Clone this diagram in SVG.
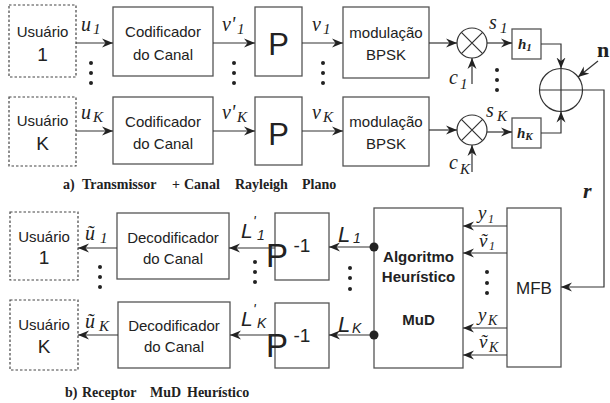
<svg xmlns="http://www.w3.org/2000/svg" width="610" height="403" viewBox="0 0 610 403">
<style>
.box{fill:#fff;stroke:#555;stroke-width:1.3}
.dash{fill:#fff;stroke:#444;stroke-width:1.2;stroke-dasharray:2.5,2}
.ln{fill:none;stroke:#333;stroke-width:1.2}
.s{font-family:"Liberation Sans",Arial,sans-serif;fill:#222;text-anchor:middle}
.t15{font-size:15px}
.t19{font-size:19px}
.it{font-family:"Liberation Serif","DejaVu Serif",serif;font-style:italic;fill:#222}
.si{font-family:"Liberation Sans",Arial,sans-serif;font-style:italic;fill:#222}
.cap{font-family:"Liberation Serif","Times New Roman",serif;font-weight:bold;font-size:14px;fill:#222}
.dot{fill:#222}
</style>
<defs>
<marker id="ah" markerWidth="12" markerHeight="10" refX="11" refY="5" orient="auto" markerUnits="userSpaceOnUse">
<path d="M0,0.5 L11,5 L0,9.5 L3.5,5 z" fill="#222"/>
</marker>
</defs>

<!-- Transmitter nodes -->
<g id="usuario1-tx"><rect class="dash" x="9" y="5" width="67" height="72"/><text class="s t15" x="42.5" y="37">Usuário</text><text class="s t19" x="42.5" y="61">1</text></g>
<g id="usuarioK-tx"><rect class="dash" x="9" y="97" width="67" height="69"/><text class="s t15" x="42.5" y="126">Usuário</text><text class="s t19" x="42.5" y="150">K</text></g>
<g id="codificador1"><rect class="box" x="113" y="7" width="100" height="69"/><text class="s t15" x="163" y="37">Codificador</text><text class="s t15" x="163" y="60">do Canal</text></g>
<g id="codificadorK"><rect class="box" x="113" y="97" width="100" height="67"/><text class="s t15" x="163" y="127">Codificador</text><text class="s t15" x="163" y="149">do Canal</text></g>
<g id="p1"><rect class="box" x="255" y="7" width="47" height="69"/><text class="s" font-size="31" x="278.5" y="55">P</text></g>
<g id="pK"><rect class="box" x="255" y="97" width="47" height="68"/><text class="s" font-size="31" x="278.5" y="145">P</text></g>
<g id="modulacao1"><rect class="box" x="343" y="7" width="86" height="71"/><text class="s t15" x="386" y="38">modulação</text><text class="s t15" x="386" y="60">BPSK</text></g>
<g id="modulacaoK"><rect class="box" x="343" y="97" width="86" height="69"/><text class="s t15" x="386" y="127">modulação</text><text class="s t15" x="386" y="149">BPSK</text></g>
<g id="mult1"><circle class="ln" cx="472" cy="43" r="15"/><path class="ln" d="M461.4,32.4 L482.6,53.6 M482.6,32.4 L461.4,53.6"/></g>
<g id="multK"><circle class="ln" cx="472" cy="130" r="15"/><path class="ln" d="M461.4,119.4 L482.6,140.6 M482.6,119.4 L461.4,140.6"/></g>
<g id="h1"><rect class="box" x="512" y="29" width="29" height="30"/><text x="518" y="49" font-family="Liberation Serif,serif" font-style="italic" font-weight="bold" font-size="15" fill="#222">h<tspan font-size="11" dy="2">1</tspan></text></g>
<g id="hK"><rect class="box" x="512" y="118" width="29" height="30"/><text x="517" y="138" font-family="Liberation Serif,serif" font-style="italic" font-weight="bold" font-size="15" fill="#222">h<tspan font-size="11" dy="2">K</tspan></text></g>
<g id="soma"><circle class="ln" cx="561" cy="90" r="21.5"/><path class="ln" d="M561,69 V111.5 M539.5,90 H582.5"/></g>

<!-- Receiver nodes -->
<g id="usuario1-rx"><rect class="dash" x="10" y="212" width="68" height="68"/><text class="s t15" x="44" y="242">Usuário</text><text class="s t19" x="44" y="264">1</text></g>
<g id="usuarioK-rx"><rect class="dash" x="10" y="300" width="68" height="70"/><text class="s t15" x="44" y="330">Usuário</text><text class="s t19" x="44" y="353">K</text></g>
<g id="decodificador1"><rect class="box" x="117" y="213" width="112" height="66"/><text class="s t15" x="173" y="243">Decodificador</text><text class="s t15" x="173" y="264">do Canal</text></g>
<g id="decodificadorK"><rect class="box" x="118" y="302" width="112" height="66"/><text class="s t15" x="174" y="331">Decodificador</text><text class="s t15" x="174" y="352">do Canal</text></g>
<g id="pinv1"><rect class="box" x="275" y="213" width="54" height="67"/><text class="s" font-size="33" x="277" y="267" text-anchor="start">P</text><text class="s" font-size="19" x="302" y="252" text-anchor="start">-1</text></g>
<g id="pinvK"><rect class="box" x="275" y="303" width="54" height="65"/><text class="s" font-size="33" x="277" y="357" text-anchor="start">P</text><text class="s" font-size="19" x="302" y="342" text-anchor="start">-1</text></g>
<g id="mud"><rect class="box" x="374" y="208" width="89" height="160"/><text class="s" font-weight="bold" font-size="15" x="418.5" y="262">Algoritmo</text><text class="s" font-weight="bold" font-size="15" x="418.5" y="282">Heurístico</text><text class="s" font-weight="bold" font-size="15" x="418.5" y="325">MuD</text></g>
<g id="mfb"><rect class="box" x="507" y="208" width="54" height="159"/><text class="s" font-size="17" x="534" y="294">MFB</text></g>

<!-- Connectors -->
<g id="connectors">
<path class="ln" marker-end="url(#ah)" d="M76,43 H113"/>
<path class="ln" marker-end="url(#ah)" d="M213,43 H255"/>
<path class="ln" marker-end="url(#ah)" d="M302,43 H343"/>
<path class="ln" marker-end="url(#ah)" d="M429,43 H457"/>
<path class="ln" marker-end="url(#ah)" d="M472,84 V58"/>
<path class="ln" marker-end="url(#ah)" d="M487,43 H512"/>
<path class="ln" marker-end="url(#ah)" d="M541,44 H561 V68.5"/>
<path class="ln" marker-end="url(#ah)" d="M76,131 H113"/>
<path class="ln" marker-end="url(#ah)" d="M213,131 H255"/>
<path class="ln" marker-end="url(#ah)" d="M302,131 H343"/>
<path class="ln" marker-end="url(#ah)" d="M429,130 H457"/>
<path class="ln" marker-end="url(#ah)" d="M472,172 V145"/>
<path class="ln" marker-end="url(#ah)" d="M487,132 H512"/>
<path class="ln" marker-end="url(#ah)" d="M541,133 H561 V111.5"/>
<path class="ln" marker-end="url(#ah)" d="M598,61 L578,77"/>
<path class="ln" marker-end="url(#ah)" d="M582.5,90 H604 V287 H561"/>
<path class="ln" marker-end="url(#ah)" d="M507,226 H463"/>
<path class="ln" marker-end="url(#ah)" d="M507,253 H463"/>
<path class="ln" marker-end="url(#ah)" d="M507,328 H463"/>
<path class="ln" marker-end="url(#ah)" d="M507,355 H463"/>
<path class="ln" marker-end="url(#ah)" d="M374,247 H329"/>
<path class="ln" marker-end="url(#ah)" d="M374,335 H329"/>
<circle class="dot" cx="374" cy="247" r="4.5"/>
<circle class="dot" cx="374" cy="335" r="4.5"/>
<path class="ln" marker-end="url(#ah)" d="M275,248 H229"/>
<path class="ln" marker-end="url(#ah)" d="M275,335 H230"/>
<path class="ln" marker-end="url(#ah)" d="M117,248 H78"/>
<path class="ln" marker-end="url(#ah)" d="M118,335 H78"/>
</g>

<!-- Dots -->
<g id="ellipsis" class="dot">
<circle cx="91" cy="63" r="2"/><circle cx="91" cy="73" r="2"/><circle cx="91" cy="83" r="2"/>
<circle cx="234" cy="63" r="2"/><circle cx="234" cy="73" r="2"/><circle cx="234" cy="83" r="2"/>
<circle cx="323" cy="63" r="2"/><circle cx="323" cy="73" r="2"/><circle cx="323" cy="83" r="2"/>
<circle cx="497" cy="70" r="2"/><circle cx="497" cy="80" r="2"/><circle cx="497" cy="90" r="2"/>
<circle cx="100" cy="267" r="2"/><circle cx="100" cy="277" r="2"/><circle cx="100" cy="287" r="2"/>
<circle cx="255" cy="262" r="2"/><circle cx="255" cy="272" r="2"/><circle cx="255" cy="282" r="2"/>
<circle cx="350" cy="268" r="2"/><circle cx="350" cy="278" r="2"/><circle cx="350" cy="289" r="2"/>
<circle cx="487" cy="272" r="2"/><circle cx="487" cy="283" r="2"/><circle cx="487" cy="293" r="2"/>
</g>

<!-- Labels -->
<g id="labels">
<text class="it" font-size="20" x="81" y="31">u</text><text class="it" font-size="15" x="93" y="34">1</text>
<text class="it" font-size="20" x="81" y="119">u</text><text class="it" font-size="15" x="93" y="122">K</text>
<text class="it" font-size="20" x="222" y="31">v'</text><text class="it" font-size="15" x="237" y="34">1</text>
<text class="it" font-size="20" x="222" y="119">v'</text><text class="it" font-size="15" x="237" y="122">K</text>
<text class="it" font-size="20" x="312" y="31">v</text><text class="it" font-size="15" x="323" y="34">1</text>
<text class="it" font-size="20" x="312" y="119">v</text><text class="it" font-size="15" x="323" y="122">K</text>
<text class="it" font-size="20" x="449" y="84">c</text><text class="it" font-size="15" x="460" y="89">1</text>
<text class="it" font-size="20" x="449" y="169">c</text><text class="it" font-size="15" x="460" y="174">K</text>
<text class="it" font-size="20" x="489" y="29">s</text><text class="it" font-size="15" x="500" y="33">1</text>
<text class="it" font-size="20" x="486" y="117">s</text><text class="it" font-size="15" x="497" y="121">K</text>
<text x="597" y="57" font-family="Liberation Serif,serif" font-weight="bold" font-size="22" fill="#222">n</text>
<text x="583" y="198" font-family="Liberation Serif,serif" font-weight="bold" font-style="italic" font-size="22" fill="#222">r</text>
<text class="it" font-size="20" x="85" y="240">ũ</text><text class="it" font-size="15" x="100" y="243">1</text>
<text class="it" font-size="20" x="85" y="328">ũ</text><text class="it" font-size="15" x="99" y="331">K</text>
<text class="si" font-size="21" x="241" y="238">L</text><text class="si" font-size="14" x="253" y="226">'</text><text class="si" font-size="14" x="257" y="240">1</text>
<text class="si" font-size="21" x="241" y="326">L</text><text class="si" font-size="14" x="253" y="314">'</text><text class="si" font-size="14" x="257" y="328">K</text>
<text class="si" font-size="22" x="338" y="242">L</text><text class="si" font-size="14" x="353" y="243">1</text>
<text class="si" font-size="22" x="338" y="332">L</text><text class="si" font-size="14" x="352" y="333">K</text>
<text class="it" font-size="19" x="478" y="219">y</text><text class="it" font-size="12" font-style="normal" x="488" y="223">1</text>
<text class="it" font-size="19" x="479" y="247">ṽ</text><text class="it" font-size="12" font-style="normal" x="489" y="250">1</text>
<text class="it" font-size="19" x="478" y="321">y</text><text class="it" font-size="14" x="488" y="325">K</text>
<text class="it" font-size="19" x="479" y="348">ṽ</text><text class="it" font-size="14" x="489" y="352">K</text>
</g>

<!-- Captions -->
<g id="captions">
<text class="cap" y="189"><tspan x="63">a)</tspan><tspan x="82">Transmissor</tspan><tspan x="172">+</tspan><tspan x="184">Canal</tspan><tspan x="235">Rayleigh</tspan><tspan x="302">Plano</tspan></text>
<text class="cap" y="397"><tspan x="65">b)</tspan><tspan x="82">Receptor</tspan><tspan x="150">MuD</tspan><tspan x="187">Heurístico</tspan></text>
</g>
</svg>
